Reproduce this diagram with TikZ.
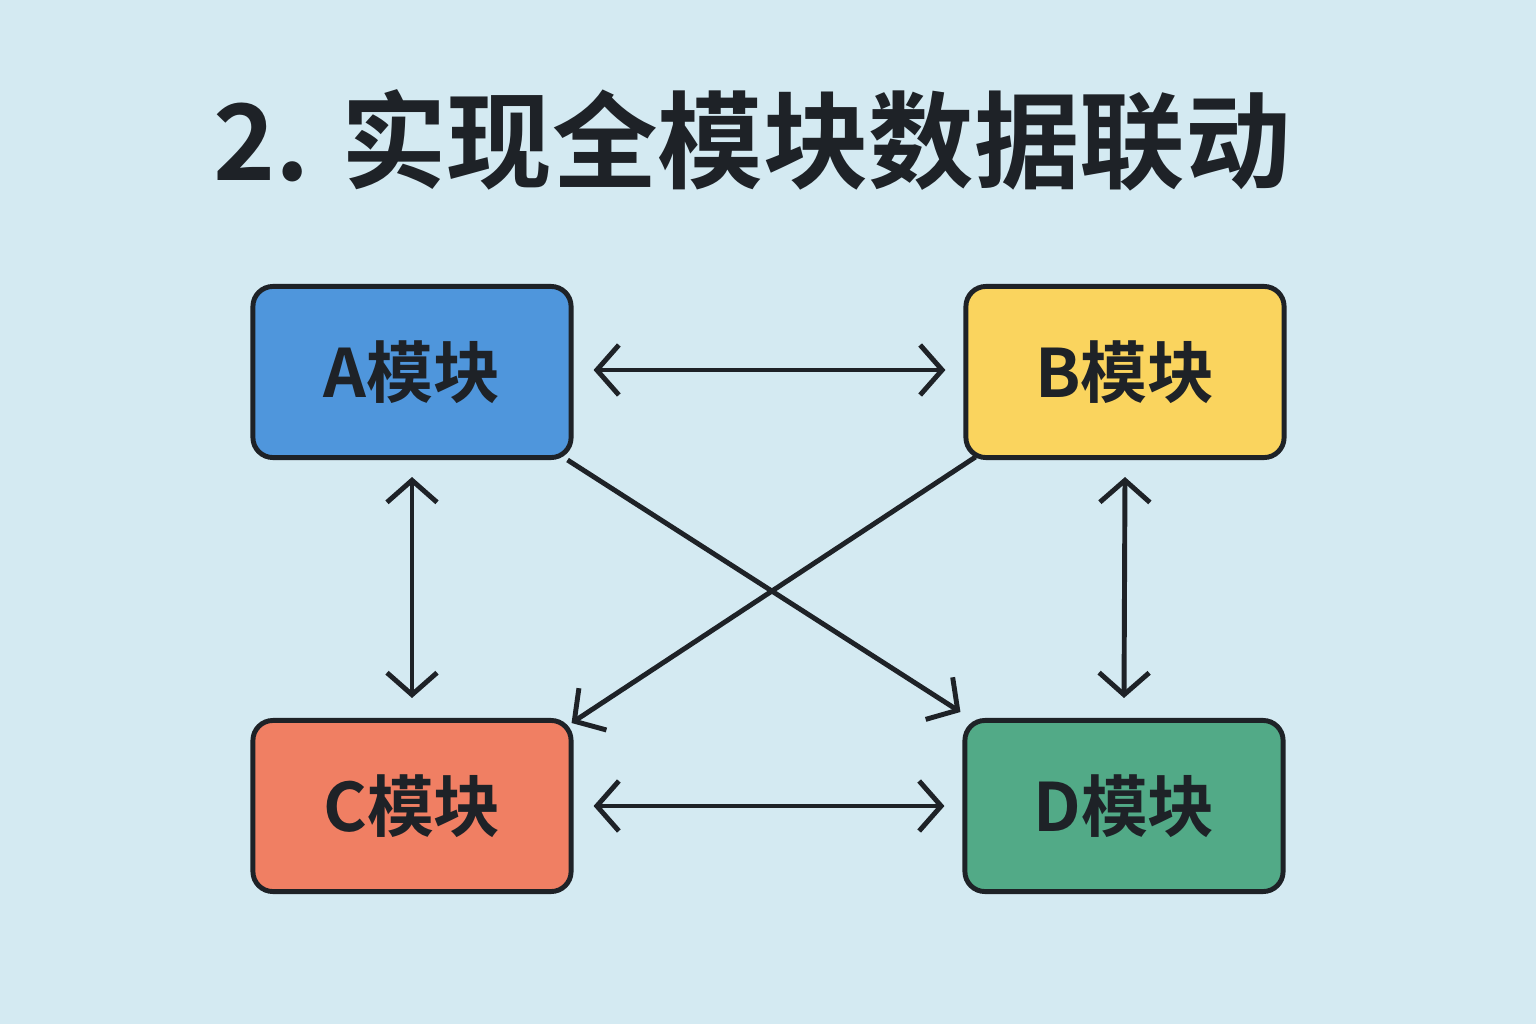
\documentclass[tikz,border=0pt]{standalone}
\usepackage{fontspec}
\newfontfamily\cjk{Noto Sans CJK SC}[BoldFont={Noto Sans CJK SC Bold}]
\usetikzlibrary{arrows.meta}
\definecolor{bgblue}{HTML}{D4EAF2}
\definecolor{modA}{HTML}{4F96DC}
\definecolor{modB}{HTML}{FAD45E}
\definecolor{modC}{HTML}{F07F63}
\definecolor{modD}{HTML}{52AA87}
\definecolor{ink}{HTML}{1E2227}
\tikzset{
  module/.style={draw=ink,line width=1.4pt,rounded corners=0.2cm,minimum width=3.18cm,minimum height=1.71cm,font=\cjk\bfseries\fontsize{19}{22}\selectfont,text=ink},
  link/.style={draw=ink,line width=1.4pt,{Straight Barb[length=0.22cm,width=0.5cm]}-{Straight Barb[length=0.22cm,width=0.5cm]}},
  onelink/.style={draw=ink,line width=1.4pt,-{Straight Barb[length=0.22cm,width=0.5cm]}}
}
\begin{document}
\begin{tikzpicture}[x=0.01cm,y=-0.01cm]
% Background
\fill[bgblue] (0,0) rectangle (1536,1024);

% Title
\node[font=\cjk\bfseries\fontsize{30}{34}\selectfont,text=ink] (title) at (752,140) {2. 实现全模块数据联动};

% Modules
\node[module,fill=modA] (a) at (412,372) {A模块};
\node[module,fill=modB] (b) at (1125,372) {B模块};
\node[module,fill=modC] (c) at (412,806) {C模块};
\node[module,fill=modD] (d) at (1124,806) {D模块};

% Links
\draw[link] ([xshift=0.2cm,yshift=0.02cm]a.east) -- ([xshift=-0.18cm,yshift=0.02cm]b.west);
\draw[link] ([xshift=0.2cm]c.east) -- ([xshift=-0.18cm]d.west);
\draw[link] ([yshift=-0.17cm]a.south) -- ([yshift=0.2cm]c.north);
\draw[link] ([yshift=-0.17cm]b.south) -- ([yshift=0.2cm]d.north);
\draw[onelink] ([xshift=-0.06cm]a.south east) -- ([xshift=-0.02cm,yshift=0.06cm]d.north west);
\draw[onelink] ([xshift=0.12cm,yshift=0.03cm]b.south west) -- ([xshift=-0.02cm,yshift=-0.05cm]c.north east);
\end{tikzpicture}
\end{document}
